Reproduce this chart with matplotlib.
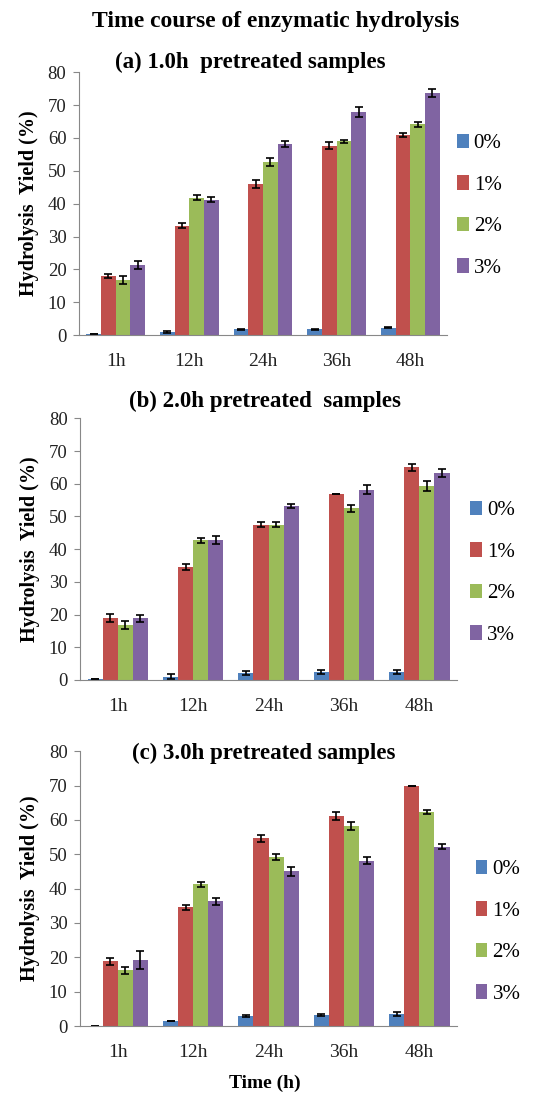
import numpy as np
import matplotlib.pyplot as plt

plt.rcParams['font.family'] = ['Liberation Serif', 'DejaVu Serif']

times = ['1h', '12h', '24h', '36h', '48h']
conc = ['0%', '1%', '2%', '3%']
colors = ['#4F81BD', '#C0504D', '#9BBB59', '#8064A2']

# (a) 1.0h pretreated
a_vals = [[0.3, 0.8, 1.8, 1.8, 2.3],
          [18.0, 33.3, 46.0, 57.7, 61.0],
          [16.8, 41.8, 52.7, 59.0, 64.2],
          [21.3, 41.2, 58.2, 68.0, 73.7]]
a_err = [[0.1, 0.3, 0.2, 0.2, 0.2],
         [0.5, 0.7, 1.2, 1.0, 0.6],
         [1.3, 0.8, 1.3, 0.5, 0.8],
         [1.3, 0.8, 0.8, 1.5, 1.3]]

# (b) 2.0h pretreated
b_vals = [[0.3, 1.0, 2.0, 2.5, 2.5],
          [19.0, 34.5, 47.5, 57.0, 65.0],
          [16.8, 42.7, 47.5, 52.5, 59.3],
          [18.8, 42.8, 53.2, 58.2, 63.3]]
b_err = [[0.1, 0.8, 0.6, 0.6, 0.6],
         [1.3, 1.0, 0.8, 0.0, 1.0],
         [1.2, 0.8, 0.8, 1.0, 1.6],
         [1.0, 1.2, 0.7, 1.3, 1.3]]

# (c) 3.0h pretreated
c_vals = [[0.0, 1.5, 2.8, 3.3, 3.4],
          [18.8, 34.6, 54.7, 61.2, 69.8],
          [16.2, 41.2, 49.2, 58.3, 62.3],
          [19.2, 36.3, 45.0, 48.1, 52.2]]
c_err = [[0.0, 0.1, 0.3, 0.3, 0.6],
         [1.0, 0.7, 1.0, 1.2, 0.0],
         [1.0, 0.7, 0.9, 1.2, 0.5],
         [2.7, 1.0, 1.3, 1.0, 0.7]]

fig = plt.figure(figsize=(5.52, 10.95), dpi=100)

panels = [
    (a_vals, a_err, [0.143, 0.694, 0.667, 0.240], '(a) 1.0h  pretreated samples', 0.943, 0.453, (0.828, 0.812)),
    (b_vals, b_err, [0.145, 0.379, 0.683, 0.239], '(b) 2.0h pretreated  samples', 0.633, 0.48, (0.852, 0.477)),
    (c_vals, c_err, [0.145, 0.063, 0.683, 0.251], '(c) 3.0h pretreated samples', 0.312, 0.477, (0.862, 0.149)),
]

x = np.arange(len(times))
w = 0.2
for vals, errs, rect, title, ty, tx, lpos in panels:
    ax = fig.add_axes(rect)
    for i in range(4):
        ax.bar(x + (i - 1.5) * w, vals[i], w, color=colors[i], label=conc[i],
               yerr=errs[i], capsize=3, error_kw=dict(elinewidth=1.2, capthick=1.2, ecolor='black'))
    ax.set_ylim(0, 80)
    ax.set_xlim(-0.5, 4.5)
    ax.set_yticks(range(0, 81, 10))
    ax.set_xticks(x)
    ax.set_xticklabels(times, fontsize=14)
    ax.tick_params(axis='y', labelsize=13.5, length=4, color='#888888', pad=5, labelcolor='#222222')
    ax.tick_params(axis='x', length=0, pad=13, labelcolor='#222222')
    for s in ['top', 'right']:
        ax.spines[s].set_visible(False)
    for s in ['left', 'bottom']:
        ax.spines[s].set_color('#888888')
    ax.set_ylabel('Hydrolysis  Yield (%)', fontsize=14.5, fontweight='bold', labelpad=6)
    fig.text(tx, ty, title, ha='center', va='center', fontsize=16.5, fontweight='bold')
    ax.legend(loc='center left', bbox_to_anchor=lpos, bbox_transform=fig.transFigure,
              frameon=False, fontsize=15, handlelength=0.55, handleheight=0.7,
              handletextpad=0.25, labelspacing=1.05, borderpad=0, borderaxespad=0)

fig.text(0.5, 0.98, 'Time course of enzymatic hydrolysis', ha='center', va='center',
         fontsize=17, fontweight='bold')
fig.text(0.48, 0.011, 'Time (h)', ha='center', va='center', fontsize=14, fontweight='bold')

fig.savefig('out.png', dpi=100)
